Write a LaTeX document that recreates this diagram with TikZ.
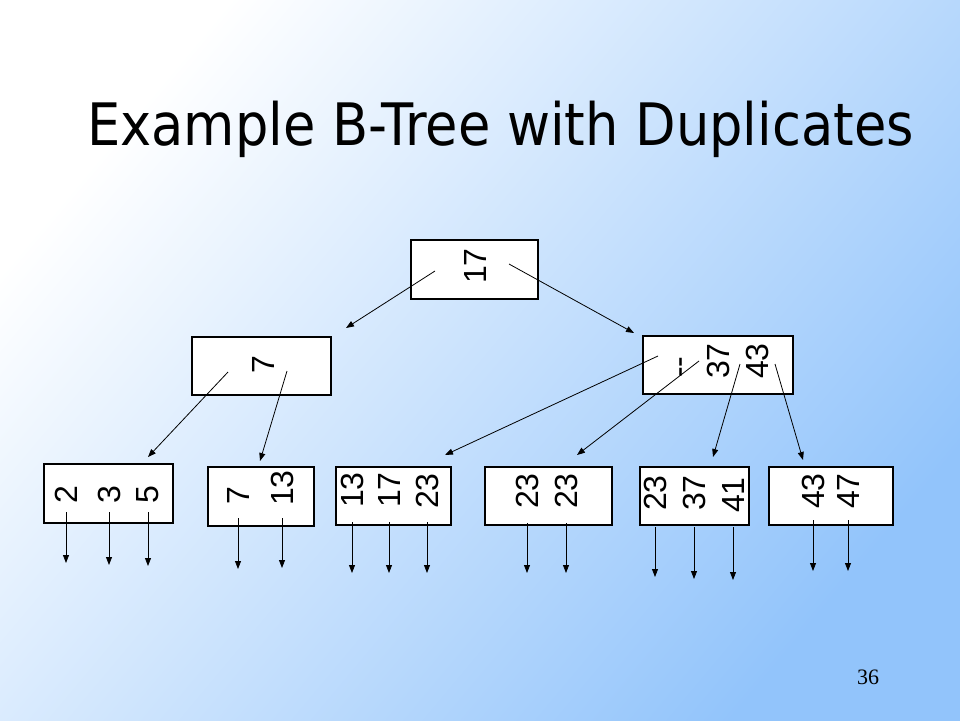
\documentclass[tikz,border=0pt]{standalone}
\usepackage{fontspec}
\setmainfont{Liberation Sans}
\newfontfamily\titlefont{DejaVu Sans Condensed}
\newfontfamily\pagefont{Liberation Serif}
\usetikzlibrary{arrows.meta}

\definecolor{bglight}{HTML}{FFFFFF}
\definecolor{bgmid}{HTML}{D6E8FE}
\definecolor{bgdeep}{HTML}{92C4FB}

\tikzset{
  block/.style={draw=black, line width=1.2pt, fill=white, inner sep=0pt},
  key/.style={rotate=90, anchor=west, inner sep=0pt, font=\fontsize{32}{32}\selectfont},
  ptr/.style={line width=0.8pt, -{Triangle[length=8pt,width=6pt]}}
}

\begin{document}
\begin{tikzpicture}[x=1pt,y=-1pt]
% The background
\useasboundingbox (0,0) rectangle (960,720);
\shade[top color=bglight, middle color=bgmid, bottom color=bgdeep, shading angle=50] (0,0) rectangle (960,720);

% The title
\node[anchor=base west, inner sep=0pt, font=\titlefont\fontsize{58.5}{58.5}\selectfont] (title) at (87,145) {Example B-Tree with Duplicates};

% The blocks
\node[block, minimum width=127pt, minimum height=59pt] (root) at (474.5,269.5) {};
\node[block, minimum width=139pt, minimum height=58pt] (idxL) at (261.5,366) {};
\node[block, minimum width=150pt, minimum height=58pt] (idxR) at (718,365) {};
\node[block, minimum width=129pt, minimum height=59pt] (leafA) at (108.5,493.5) {};
\node[block, minimum width=106pt, minimum height=59pt] (leafB) at (261,496.5) {};
\node[block, minimum width=115pt, minimum height=58pt] (leafC) at (393.5,496) {};
\node[block, minimum width=127pt, minimum height=58pt] (leafD) at (548.5,496) {};
\node[block, minimum width=109pt, minimum height=58pt] (leafE) at (694.5,496) {};
\node[block, minimum width=124pt, minimum height=58pt] (leafF) at (831,496) {};

% The keys
\node[key] (r17) at (475,284) {17};
\node[key] (i7) at (263,374) {7};
\node[key] (jdash) at (685,378) {-{}-};
\node[key] (j37) at (718,379) {37};
\node[key] (j43) at (757,379) {43};
\node[key] (la2) at (66,504) {2};
\node[key] (la3) at (109,504) {3};
\node[key] (la5) at (148,504) {5};
\node[key] (lb7) at (238,505) {7};
\node[key] (lb13) at (282,506) {13};
\node[key] (lc13) at (352,508) {13};
\node[key] (lc17) at (389,508) {17};
\node[key] (lc23) at (427,509) {23};
\node[key] (ld23) at (527,509) {23};
\node[key] (ld23b) at (566,509) {23};
\node[key] (le23) at (655,511) {23};
\node[key] (le37) at (694,511) {37};
\node[key] (le41) at (733,513) {41};
\node[key] (lf43) at (813,509) {43};
\node[key] (lf47) at (848,509) {47};

% The free ends
\coordinate (to-i7) at (346,328);
\coordinate (to-j) at (634,333);
\coordinate (to-la) at (148,457);
\coordinate (to-lb) at (260,461);
\coordinate (to-lc) at (445,455);
\coordinate (to-ld) at (577,455);
\coordinate (to-le) at (713,457);
\coordinate (to-lf) at (803,460);

% The pointers
\draw[ptr] ([xshift=-39.5pt,yshift=-1.5pt]root.center) -- (to-i7);
\draw[ptr] ([xshift=34.5pt,yshift=5.5pt]root.center) -- (to-j);
\draw[ptr] ([xshift=-33.5pt,yshift=-6pt]idxL.center) -- (to-la);
\draw[ptr] ([xshift=25.5pt,yshift=-5pt]idxL.center) -- (to-lb);
\draw[ptr] ([xshift=-60pt,yshift=9pt]idxR.center) -- (to-lc);
\draw[ptr] ([xshift=-19pt,yshift=4pt]idxR.center) -- (to-ld);
\draw[ptr] ([xshift=22pt,yshift=1pt]idxR.center) -- (to-le);
\draw[ptr] ([xshift=57pt,yshift=1pt]idxR.center) -- (to-lf);
\foreach \k/\g/\l in {la2/8/51, la3/8/53, la5/8/54, lb7/13/51, lb13/12/50,
  lc13/14/51, lc17/14/51, lc23/13/51, ld23/14/50, ld23b/14/50,
  le23/16/50, le37/16/52, le41/14/53, lf43/11/51, lf47/11/51}
  \draw[ptr] (\k.west) ++(0,\g) -- ++(0,\l);

% The page number
\node[anchor=base, inner sep=0pt, font=\pagefont\fontsize{22}{22}\selectfont] (page) at (868,684) {36};
\end{tikzpicture}
\end{document}
